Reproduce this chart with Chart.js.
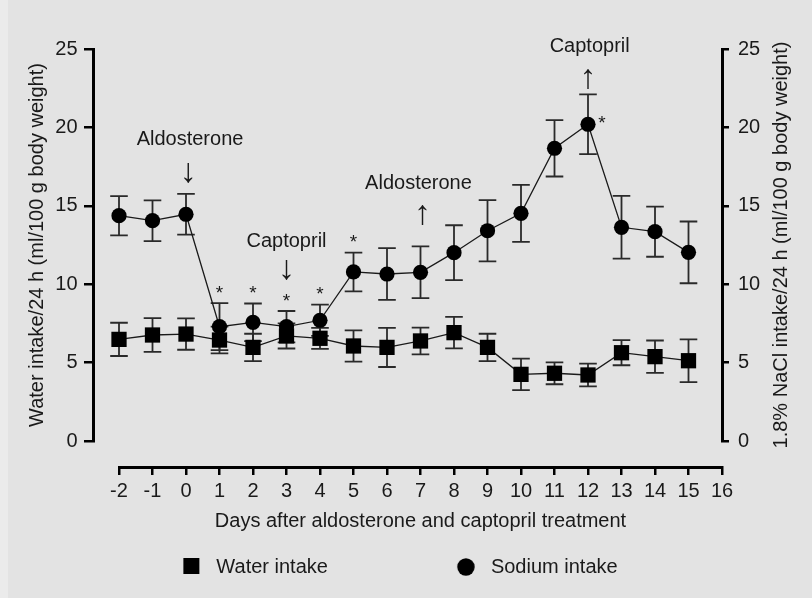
<!DOCTYPE html>
<html>
<head>
<meta charset="utf-8">
<script src="https://cdn.jsdelivr.net/npm/chart.js@4.4.1/dist/chart.umd.min.js"></script>
<style>
  html, body { margin: 0; padding: 0; background: #e3e3e3; }
  #wrap { width: 812px; height: 598px; position: relative; }
</style>
</head>
<body>
<div id="wrap"><canvas id="chart" width="812" height="598"></canvas></div>
<script>
// ---------------- data ----------------
const days = [-2, -1, 0, 1, 2, 3, 4, 5, 6, 7, 8, 9, 10, 11, 12, 13, 14, 15];
const waterIntake = [6.48, 6.76, 6.82, 6.44, 5.97, 6.70, 6.55, 6.06, 5.97, 6.38, 6.91, 5.97, 4.25, 4.32, 4.21, 5.63, 5.38, 5.12];
const waterSEM    = [1.06, 1.08, 1.00, 0.85, 0.87, 0.80, 0.67, 1.00, 1.25, 0.85, 1.00, 0.87, 1.00, 0.70, 0.72, 0.80, 1.03, 1.36];
const sodiumIntake = [14.37, 14.05, 14.46, 7.29, 7.57, 7.29, 7.70, 10.78, 10.65, 10.76, 12.01, 13.41, 14.52, 18.67, 20.20, 13.63, 13.35, 12.03];
const sodiumSEM    = [1.25, 1.30, 1.30, 1.50, 1.20, 1.00, 1.00, 1.24, 1.65, 1.65, 1.75, 1.95, 1.82, 1.80, 1.90, 2.00, 1.60, 1.97];
const xTickValues = [-2, -1, 0, 1, 2, 3, 4, 5, 6, 7, 8, 9, 10, 11, 12, 13, 14, 15, 16];
const yTickValues = [0, 5, 10, 15, 20, 25];
const seriesLabels = ['Water intake', 'Sodium intake'];
const xTitle = 'Days after aldosterone and captopril treatment';
const yLeftTitle = 'Water intake/24 h (ml/100 g body weight)';
const yRightTitle = '1.8% NaCl intake/24 h (ml/100 g body weight)';
// significance marks on sodium intake (day, placement)
const sigDays = [1, 2, 3, 4, 5, 12];
const sigPlacement = ['above', 'above', 'above', 'above', 'above', 'right'];
// treatment annotations (text, day, value)
const noteTexts = ['Aldosterone', 'Captopril', 'Aldosterone', 'Captopril'];
const noteDays  = [0.12, 3.0, 6.94, 12.05];
const noteVals  = [19.2, 12.71, 16.43, 25.19];
const arrowTexts = ['\u2193', '\u2193', '\u2191', '\u2191'];
const arrowDays  = [0.07, 3.0, 7.06, 12.0];
const arrowVals  = [17.1, 10.9, 14.45, 23.12];

// ---------------- styling ----------------
const FONT = "'Liberation Sans', Arial, sans-serif";
const TXT = '#1a1a1a';
const BG = '#e3e3e3';
const X_AXIS_AT = -1.69;    // y-value where the detached x axis is drawn
const Y_AXIS_AT = -2.755;   // x-value where the detached left y axis is drawn

function makeIcon(kind) {
  const c = document.createElement('canvas');
  c.width = 25; c.height = 20;
  const g = c.getContext('2d');
  g.fillStyle = '#000';
  if (kind === 'square') {
    g.fillRect(16 - 8, 10 - 9, 16, 16);
  } else {
    g.beginPath(); g.arc(16, 10, 8.7, 0, Math.PI * 2); g.fill();
  }
  return c;
}
const legendIcons = [makeIcon('square'), makeIcon('circle')];

const extras = {
  id: 'extras',
  beforeDraw(chart) {
    const ctx = chart.ctx;
    ctx.save();
    ctx.fillStyle = BG;
    ctx.fillRect(0, 0, chart.width, chart.height);
    ctx.fillStyle = '#ebebeb';
    ctx.fillRect(0, 0, 8, chart.height);
    ctx.restore();
  },
  beforeDatasetsDraw(chart) {
    const ctx = chart.ctx, xs = chart.scales.x, ys = chart.scales.y;
    const sets = [[waterIntake, waterSEM], [sodiumIntake, sodiumSEM]];
    ctx.save();
    ctx.strokeStyle = '#2a2a2a';
    ctx.lineWidth = 1.8;
    sets.forEach(([vals, errs]) => {
      vals.forEach((v, i) => {
        const px = xs.getPixelForValue(days[i]);
        const t = ys.getPixelForValue(v + errs[i]);
        const b = ys.getPixelForValue(v - errs[i]);
        ctx.beginPath();
        ctx.moveTo(px, t); ctx.lineTo(px, b);
        ctx.moveTo(px - 8.8, t); ctx.lineTo(px + 8.8, t);
        ctx.moveTo(px - 8.8, b); ctx.lineTo(px + 8.8, b);
        ctx.stroke();
      });
    });
    ctx.restore();
  },
  afterDatasetsDraw(chart) {
    const ctx = chart.ctx, xs = chart.scales.x, ys = chart.scales.y;
    ctx.save();
    ctx.fillStyle = TXT;
    ctx.textAlign = 'center';
    ctx.textBaseline = 'middle';
    // asterisks
    ctx.font = '19px ' + FONT;
    sigDays.forEach((d, k) => {
      const i = days.indexOf(d);
      let px = xs.getPixelForValue(d), py;
      if (sigPlacement[k] === 'above') {
        py = ys.getPixelForValue(sodiumIntake[i] + sodiumSEM[i]) - 14;
      } else {
        px += 14;
        py = ys.getPixelForValue(sodiumIntake[i]) - 5;
      }
      ctx.fillText('*', px, py + 4.5);
    });
    // treatment notes
    ctx.font = '20px ' + FONT;
    noteTexts.forEach((t, k) => {
      ctx.fillText(t, xs.getPixelForValue(noteDays[k]), ys.getPixelForValue(noteVals[k]));
    });
    ctx.font = '34px ' + FONT;
    arrowTexts.forEach((t, k) => {
      ctx.fillText(t, xs.getPixelForValue(arrowDays[k]), ys.getPixelForValue(arrowVals[k]));
    });
    // right axis title (reads bottom-to-top)
    ctx.font = '20px ' + FONT;
    const y2 = chart.scales.y2;
    ctx.translate(y2.right - 6, (chart.chartArea.top + chart.chartArea.bottom) / 2);
    ctx.rotate(-Math.PI / 2);
    ctx.fillText(yRightTitle, 0, 0);
    ctx.restore();
  }
};

const tickFont = { family: FONT, size: 20 };
const yTicksCb = (s) => { s.ticks = yTickValues.map(v => ({ value: v })); };

new Chart(document.getElementById('chart'), {
  type: 'line',
  data: {
    datasets: [
      {
        label: seriesLabels[0],
        data: days.map((d, i) => ({ x: d, y: waterIntake[i] })),
        yAxisID: 'y', clip: false,
        borderColor: '#1a1a1a', borderWidth: 1.3,
        backgroundColor: '#000',
        pointStyle: 'rect', pointRadius: 10.8, pointBorderWidth: 0,
        pointBackgroundColor: '#000', tension: 0
      },
      {
        label: seriesLabels[1],
        data: days.map((d, i) => ({ x: d, y: sodiumIntake[i] })),
        yAxisID: 'y', clip: false,
        borderColor: '#1a1a1a', borderWidth: 1.3,
        backgroundColor: '#000',
        pointStyle: 'circle', pointRadius: 7.6, pointBorderWidth: 0,
        pointBackgroundColor: '#000', tension: 0
      }
    ]
  },
  options: {
    responsive: false,
    animation: false,
    events: [],
    layout: { padding: { left: 0, right: 25, top: 49, bottom: 11 } },
    plugins: {
      title: { display: false },
      tooltip: { enabled: false },
      legend: {
        position: 'bottom',
        align: 'center',
        labels: {
          usePointStyle: true,
          pointStyleWidth: 37,
          padding: 116,
          color: TXT,
          font: { family: FONT, size: 20 },
          generateLabels: (chart) => chart.data.datasets.map((ds, i) => ({
            text: ds.label, pointStyle: legendIcons[i], fillStyle: '#000',
            strokeStyle: '#000', lineWidth: 0, hidden: false, datasetIndex: i, fontColor: TXT
          }))
        }
      }
    },
    scales: {
      x: {
        type: 'linear', min: xTickValues[0], max: xTickValues[xTickValues.length - 1],
        position: { y: X_AXIS_AT },
        afterBuildTicks: (s) => { s.ticks = xTickValues.map(v => ({ value: v })); },
        ticks: { font: tickFont, color: TXT, padding: 6, maxRotation: 0, autoSkip: false },
        grid: { display: true, drawOnChartArea: false, drawTicks: true, tickLength: 6, tickWidth: 2.5, tickColor: '#000', lineWidth: 2.5, color: '#000' },
        border: { display: true, width: 3, color: '#000' },
        title: { display: true, text: xTitle, color: TXT, font: { family: FONT, size: 20 }, padding: { top: 0, bottom: 0 } }
      },
      y: {
        type: 'linear', min: 0, max: 25,
        position: { x: Y_AXIS_AT },
        afterBuildTicks: yTicksCb,
        ticks: { display: false },
        grid: { display: true, drawOnChartArea: false, drawTicks: true, tickLength: 8, tickWidth: 2.5, tickColor: '#000', lineWidth: 2.5, color: '#000' },
        border: { display: true, width: 3, color: '#000' },
        title: { display: false }
      },
      y2: {
        type: 'linear', min: 0, max: 25, position: 'right',
        afterBuildTicks: yTicksCb,
        ticks: { font: tickFont, color: TXT, padding: 9 },
        grid: { display: true, drawOnChartArea: false, drawTicks: true, tickLength: 7, tickWidth: 2.5, tickColor: '#000', lineWidth: 2.5, color: '#000' },
        border: { display: true, width: 3, color: '#000' },
        title: { display: false },
        afterFit: (s) => { s.width = 65; }
      },
      ySpacer: {
        type: 'linear', position: 'left', min: 0, max: 25,
        afterBuildTicks: yTicksCb,
        ticks: { display: true, font: tickFont, color: TXT, padding: 0 },
        grid: { display: false, drawTicks: true, tickLength: 41.5, drawOnChartArea: false },
        border: { display: false },
        title: { display: true, text: yLeftTitle, color: TXT, font: { family: FONT, size: 20 }, padding: { top: 25, bottom: 0 } },
        afterFit: (s) => { s.width = 119; }
      }
    }
  },
  plugins: [extras]
});
</script>
</body>
</html>
